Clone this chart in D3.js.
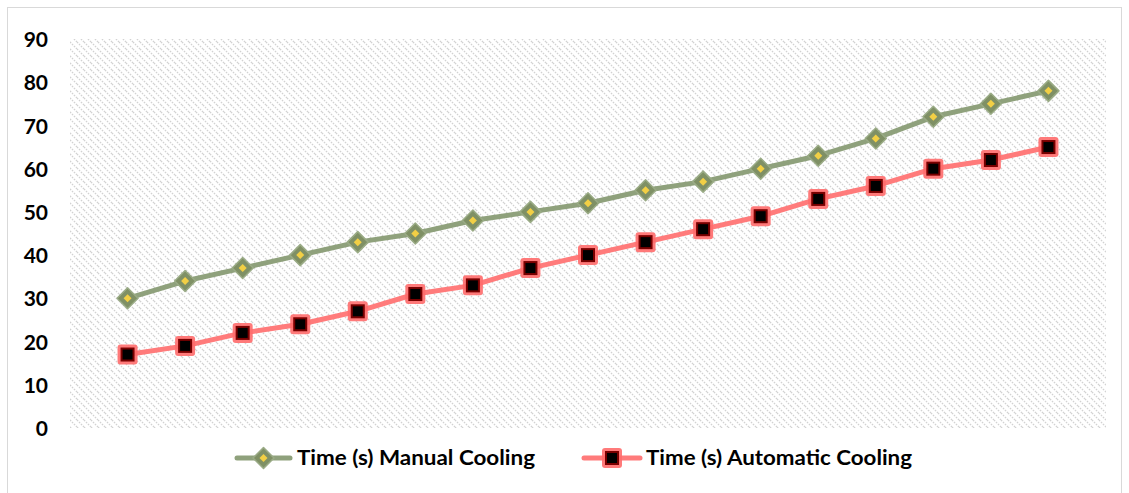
<!DOCTYPE html>
<html>
<head>
<meta charset="utf-8">
<script src="https://cdn.jsdelivr.net/npm/d3@7"></script>
<style>
  html, body { margin: 0; padding: 0; background: #fff; }
  svg { display: block; }
  text { font-family: Lato, "Liberation Sans", sans-serif; font-weight: 700; fill: #000; }
</style>
</head>
<body>
<svg id="chart" width="1129" height="493"></svg>
<script>
// Cooling time samples (seconds) for the two cooling modes
const samples = d3.range(1, 18);
const manualCooling = [30, 34, 37, 40, 43, 45, 48, 50, 52, 55, 57, 60, 63, 67, 72, 75, 78];
const automaticCooling = [17, 19, 22, 24, 27, 31, 33, 37, 40, 43, 46, 49, 53, 56, 60, 62, 65];
const yTicks = [0, 10, 20, 30, 40, 50, 60, 70, 80, 90];
const seriesNames = ["Time (s) Manual Cooling", "Time (s) Automatic Cooling"];

const svg = d3.select("#chart");
const plot = { left: 70, right: 1106, top: 39, bottom: 428 };

const x = d3.scaleLinear().domain([0, 18]).range([plot.left, plot.right]);
const y = d3.scaleLinear().domain([0, 90]).range([plot.bottom, plot.top]);

// Outer chart frame
svg.append("rect")
  .attr("x", 7.5).attr("y", 7.5).attr("width", 1114).attr("height", 500)
  .attr("fill", "#fff").attr("stroke", "#d9d9d9").attr("stroke-width", 1);

// Diagonal hatch fill for the plot area
const defs = svg.append("defs");
const pat = defs.append("pattern")
  .attr("id", "hatch").attr("patternUnits", "userSpaceOnUse")
  .attr("width", 7).attr("height", 7);
pat.append("rect").attr("width", 7).attr("height", 7).attr("fill", "#fff");
pat.append("path")
  .attr("d", "M0,0 L7,7 M-1,6 L1,8 M6,-1 L8,1")
  .attr("stroke", "#d2d2d2").attr("stroke-width", 1.3)
  .attr("stroke-dasharray", "1.6,1.2");

svg.append("rect")
  .attr("x", plot.left).attr("y", plot.top)
  .attr("width", plot.right - plot.left).attr("height", plot.bottom - plot.top)
  .attr("fill", "url(#hatch)");

// Y axis labels (no axis line)
const yAxis = d3.axisLeft(y).tickValues(yTicks).tickSize(0).tickPadding(0);
const gy = svg.append("g").attr("transform", "translate(48,0)").call(yAxis);
gy.select(".domain").remove();
gy.selectAll("text")
  .attr("font-family", "Lato, 'Liberation Sans', sans-serif")
  .attr("font-weight", 700)
  .attr("font-size", 21)
  .attr("fill", "#000")
  .attr("dy", "0.36em");

const line = d3.line().x((d, i) => x(samples[i])).y(d => y(d));

// Series styles
const greenLine = "#8fa17c", greenMarker = "#7f9065", greenDot = "#f2cf45";
const redLine = "#ff7b7b", redOuter = "#ff6b6b", redInner = "#7a0000";

function diamond(g, cx, cy) {
  const o = 10.5, inr = 4;
  g.append("path")
    .attr("d", `M${cx},${cy - o} L${cx + o},${cy} L${cx},${cy + o} L${cx - o},${cy} Z`)
    .attr("fill", greenMarker).attr("stroke", "#9aab86").attr("stroke-width", 1.5)
    .attr("stroke-linejoin", "round");
  g.append("path")
    .attr("d", `M${cx},${cy - inr} L${cx + inr},${cy} L${cx},${cy + inr} L${cx - inr},${cy} Z`)
    .attr("fill", greenDot);
}

function square(g, cx, cy) {
  g.append("rect")
    .attr("x", cx - 10).attr("y", cy - 10).attr("width", 20).attr("height", 20)
    .attr("rx", 3).attr("fill", redOuter).attr("opacity", 0.9);
  g.append("rect")
    .attr("x", cx - 7).attr("y", cy - 7).attr("width", 14).attr("height", 14)
    .attr("fill", redInner);
  g.append("rect")
    .attr("x", cx - 5).attr("y", cy - 5).attr("width", 10).attr("height", 10)
    .attr("fill", "#000");
}

// Manual cooling series
svg.append("path").datum(manualCooling)
  .attr("d", line).attr("fill", "none")
  .attr("stroke", greenLine).attr("stroke-width", 5)
  .attr("stroke-linejoin", "round").attr("stroke-linecap", "round");
const gm = svg.append("g");
manualCooling.forEach((v, i) => diamond(gm, x(samples[i]), y(v)));

// Automatic cooling series
svg.append("path").datum(automaticCooling)
  .attr("d", line).attr("fill", "none")
  .attr("stroke", redLine).attr("stroke-width", 5)
  .attr("stroke-linejoin", "round").attr("stroke-linecap", "round");
const ga = svg.append("g");
automaticCooling.forEach((v, i) => square(ga, x(samples[i]), y(v)));

// Legend
const legendY = 458;
const legendItems = [
  { name: seriesNames[0], x0: 237, x1: 290, color: greenLine, marker: diamond, tx: 297, w: 238 },
  { name: seriesNames[1], x0: 584, x1: 640, color: redLine, marker: square, tx: 646, w: 266 }
];
const lg = svg.append("g");
legendItems.forEach(it => {
  lg.append("line")
    .attr("x1", it.x0).attr("x2", it.x1).attr("y1", legendY).attr("y2", legendY)
    .attr("stroke", it.color).attr("stroke-width", 5).attr("stroke-linecap", "round");
  it.marker(lg, (it.x0 + it.x1) / 2, legendY);
  lg.append("text")
    .attr("x", it.tx).attr("y", legendY).attr("dy", "0.36em")
    .attr("font-size", 20)
    .attr("textLength", it.w).attr("lengthAdjust", "spacingAndGlyphs")
    .text(it.name);
});
</script>
</body>
</html>
